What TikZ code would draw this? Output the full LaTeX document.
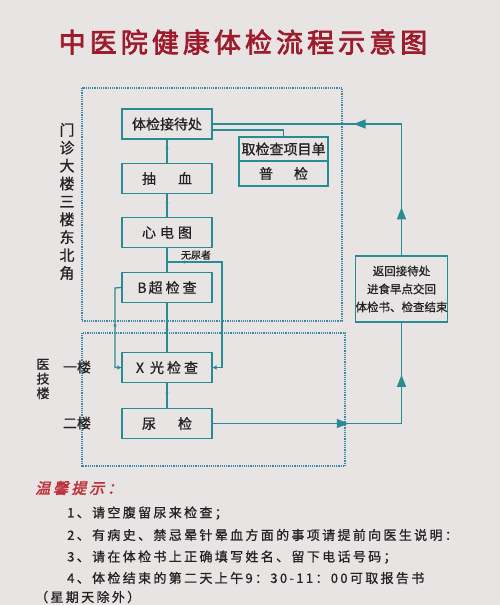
\documentclass[tikz,border=0pt]{standalone}
\usepackage{fontspec}
\setmainfont[FakeBold=0.8]{Noto Sans CJK SC}
\newfontfamily\titlefont[LetterSpace=15,FakeBold=2.5]{Noto Sans CJK SC}
\newfontfamily\tipfont[FakeSlant=0.25,FakeBold=2.5,LetterSpace=20]{Noto Sans CJK SC}
\newfontfamily\notefont[LetterSpace=18,FakeBold=0.8]{Noto Sans CJK SC}
\usetikzlibrary{arrows.meta,decorations.markings}

\definecolor{paper}{HTML}{E8E4E4}
\definecolor{flowteal}{HTML}{2A8C93}
\definecolor{zoneblue}{HTML}{3A88A2}
\definecolor{titlered}{HTML}{9E1B2B}
\definecolor{tipred}{HTML}{C0303A}
\definecolor{ink}{HTML}{222222}

\begin{document}
\begin{tikzpicture}[
            x=1pt, y=-1pt,
            stepbox/.style={draw=flowteal, line width=1.3pt, fill=paper, minimum width=90pt,
                minimum height=30pt, inner sep=0pt, text=ink, font=\fontsize{14}{16}\selectfont},
            zone/.style={draw=zoneblue, line width=1.3pt, dash pattern=on 1.2pt off 1pt},
            flow/.style={draw=flowteal, line width=1.3pt},
            tick/.style={postaction={decorate, decoration={markings,
                mark=at position #1 with {\arrow{Triangle[length=3pt,width=3pt]}}}}},
            bigtip/.style={postaction={decorate, decoration={markings,
                mark=at position #1 with {\arrow{Triangle[length=12pt,width=9pt]}}}}},
            side/.style={text=ink, align=center, inner sep=0pt},
            note/.style={anchor=west, inner sep=0pt, text=ink, font=\notefont\fontsize{13}{15}\selectfont}
        ]
        \useasboundingbox[fill=paper] (0,0) rectangle (500,605);

        % Title
        \node[text=titlered, font=\titlefont\fontsize{27}{30}\selectfont] (title) at (243,42) {中医院健康体检流程示意图};

        % Buildings
        \draw[zone] (82,88) rectangle (342,321);
        \draw[zone] (82,333) rectangle (345,466);
        \node[side, font=\fontsize{15}{17.9}\selectfont] (mainbldg) at (67,201.5) {门\\诊\\大\\楼\\三\\楼\\东\\北\\角};
        \node[side, font=\fontsize{13}{14.5}\selectfont] (techbldg) at (43,379) {医\\技\\楼};
        \node[side, font=\fontsize{14}{16}\selectfont] (floor1) at (77,367) {一楼};
        \node[side, font=\fontsize{14}{16}\selectfont] (floor2) at (77,423) {二楼};

        % Steps
        \node[stepbox] (reception) at (167,124) {体检接待处};
        \node[stepbox] (blood) at (167,178.5) {抽\hspace{22pt}血};
        \node[stepbox] (ecg) at (167,232.5) {心\hspace{4pt}电\hspace{4pt}图};
        \node[stepbox] (bscan) at (167,287.5) {B\hspace{2pt}超\hspace{3pt}检\hspace{3pt}查};
        \node[stepbox] (xray) at (167,367.5) {X\hspace{6pt}光\hspace{3pt}检\hspace{3pt}查};
        \node[stepbox] (urine) at (167,423.5) {尿\hspace{22pt}检};
        \node[stepbox, minimum width=89pt, minimum height=24pt] (list) at (283.5,149) {取检查项目单};
        \node[stepbox, minimum width=89pt, minimum height=25pt] (general) at (283.5,173.5) {普\hspace{21pt}检};
        \node[stepbox, minimum width=91pt, minimum height=66pt, align=center,
            font=\fontsize{11.5}{18}\selectfont] (back) at (401.5,289) {返回接待处\\进食早点交回\\体检书、检查结束};

        % Connectors
        \draw[flow, tick=0.5] (reception) -- (blood);
        \draw[flow, tick=0.5] (blood) -- (ecg);
        \draw[flow] (ecg) -- (bscan);
        \coordinate (split) at (167,262);
        \coordinate (skip) at (222,262);
        \draw[flow, tick=0.12, -{Triangle[length=4pt,width=4pt]}] (split) -- (skip) |- (xray.east);
        \node[inner sep=0pt, text=ink, font=\fontsize{10}{12}\selectfont] (nourine) at (196,255) {无尿者};
        \draw[flow, tick=0.6] (bscan) -- (xray);
        \coordinate (loop) at (115,288);
        \draw[flow, tick=0.5, -{Triangle[length=4pt,width=4pt]}] (bscan.west) -- (loop) |- (xray.west);
        \draw[flow, tick=0.5] (xray) -- (urine);
        \draw[flow] ([yshift=-6pt]reception.east) -| (list.north);
        \draw[flow, bigtip=0.15, bigtip=0.56] (back.north) |- (reception.east);
        \draw[flow, bigtip=0.47, bigtip=0.82] (urine.east) -| (back.south);

        % Notes
        \node[anchor=west, inner sep=0pt, text=tipred, font=\tipfont\fontsize{15}{17}\selectfont] (tips) at (35,488) {温馨提示：};
        \node[note] (tip1) at (67,513) {1、请空腹留尿来检查；};
        \node[note] (tip2) at (67,535) {2、有病史、禁忌晕针晕血方面的事项请提前向医生说明：};
        \node[note] (tip3) at (67,557) {3、请在体检书上正确填写姓名、留下电话号码；};
        \node[note] (tip4) at (67,578) {4、体检结束的第二天上午9：30-11：00可取报告书};
        \node[note] (tip5) at (35,597) {（星期天除外）};
        \end{tikzpicture}
\end{document}
